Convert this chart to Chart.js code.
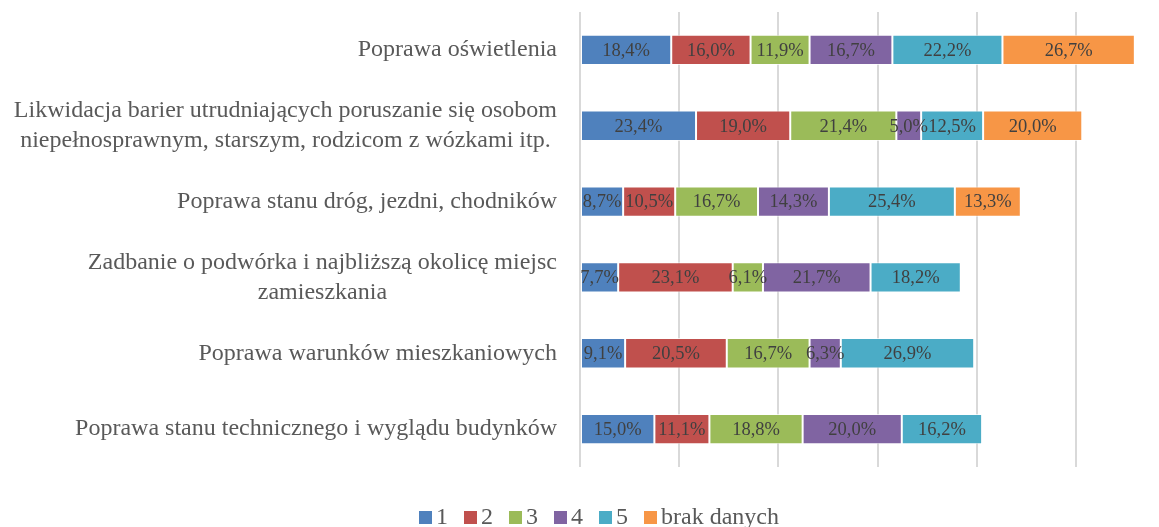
<!DOCTYPE html>
<html>
<head>
<meta charset="utf-8">
<title>Oczekiwane działania</title>
<script src="https://cdn.jsdelivr.net/npm/chart.js@4/dist/chart.umd.min.js"></script>
<style>
    html, body { margin: 0; padding: 0; background: #fff; overflow: hidden; }
    canvas { display: block; }
</style>
</head>
<body>
<canvas id="chart" width="1198" height="527"></canvas>
<script>
// categories, top to bottom (multi-line labels as arrays)
const categories = [
    ['Poprawa oświetlenia'],
    ['Likwidacja barier utrudniających poruszanie się osobom', 'niepełnosprawnym, starszym, rodzicom z wózkami itp.'],
    ['Poprawa stanu dróg, jezdni, chodników'],
    ['Zadbanie o podwórka i najbliższą okolicę miejsc', 'zamieszkania'],
    ['Poprawa warunków mieszkaniowych'],
    ['Poprawa stanu technicznego i wyglądu budynków']
];

const seriesNames = ['1', '2', '3', '4', '5', 'brak danych'];
const seriesColors = ['#4F81BD', '#C0504D', '#9BBB59', '#8064A2', '#4BACC6', '#F79646'];

// shares in %
const rating1 = [18.4, 23.4, 8.7, 7.7, 9.1, 15.0];
const rating2 = [16.0, 19.0, 10.5, 23.1, 20.5, 11.1];
const rating3 = [11.9, 21.4, 16.7, 6.1, 16.7, 18.8];
const rating4 = [16.7, 5.0, 14.3, 21.7, 6.3, 20.0];
const rating5 = [22.2, 12.5, 25.4, 18.2, 26.9, 16.2];
const noData = [26.7, 20.0, 13.3, null, null, null];

const xTicks = [0, 20, 40, 60, 80, 100, 120];

const FONT = '"Liberation Serif", "Times New Roman", serif';

function pct(v) {
    return v.toFixed(1).replace('.', ',') + '%';
}

// category names: right-aligned block, lines centred inside it
const categoryLabels = {
    id: 'categoryLabels',
    afterDraw(chart) {
        const ctx = chart.ctx;
        const y = chart.scales.y;
        ctx.save();
        ctx.font = '24px ' + FONT;
        ctx.fillStyle = '#595959';
        ctx.textAlign = 'center';
        ctx.textBaseline = 'middle';
        categories.forEach(function (lines, i) {
            const yc = y.getPixelForValue(i);
            const w = Math.max.apply(null, lines.map(function (l) { return ctx.measureText(l).width; }));
            const cx = chart.chartArea.left - 23 - w / 2;
            lines.forEach(function (l, j) {
                ctx.fillText(l, cx, yc + (j - (lines.length - 1) / 2) * 30);
            });
        });
        ctx.restore();
    }
};

// value labels in the middle of each segment
const valueLabels = {
    id: 'valueLabels',
    afterDatasetsDraw(chart) {
        const ctx = chart.ctx;
        ctx.save();
        ctx.font = '18.5px ' + FONT;
        ctx.fillStyle = '#404040';
        ctx.textAlign = 'center';
        ctx.textBaseline = 'middle';
        chart.data.datasets.forEach(function (ds, di) {
            const meta = chart.getDatasetMeta(di);
            meta.data.forEach(function (bar, i) {
                const v = ds.data[i];
                if (v == null) return;
                ctx.fillText(pct(v), (bar.x + bar.base) / 2, bar.y + 1);
            });
        });
        ctx.restore();
    }
};

// legend row under the plot
const bottomLegend = {
    id: 'bottomLegend',
    afterDraw(chart) {
        const ctx = chart.ctx;
        const box = 13, gap = 4, spacing = 16, yc = 517, centre = 599;
        ctx.save();
        ctx.font = '24px ' + FONT;
        ctx.textBaseline = 'middle';
        ctx.textAlign = 'left';
        const widths = seriesNames.map(function (n) { return box + gap + ctx.measureText(n).width; });
        const total = widths.reduce(function (a, b) { return a + b; }, 0) + spacing * (widths.length - 1);
        let x = centre - total / 2;
        seriesNames.forEach(function (n, i) {
            ctx.fillStyle = seriesColors[i];
            ctx.fillRect(Math.round(x), yc - 6, box, box);
            ctx.fillStyle = '#595959';
            ctx.fillText(n, x + box + gap, yc + 1);
            x += widths[i] + spacing;
        });
        ctx.restore();
    }
};

const seriesData = [rating1, rating2, rating3, rating4, rating5, noData];

new Chart(document.getElementById('chart'), {
    type: 'bar',
    data: {
        labels: categories,
        datasets: seriesData.map(function (d, i) {
            return {
                label: seriesNames[i],
                data: d,
                backgroundColor: seriesColors[i],
                borderColor: 'rgba(255, 255, 255, 0.7)',
                borderWidth: 1,
                borderSkipped: false,
                barPercentage: 0.4,
                categoryPercentage: 1
            };
        })
    },
    options: {
        indexAxis: 'y',
        responsive: false,
        animation: false,
        layout: {
            padding: { left: 580, right: 23, top: 12, bottom: 60 }
        },
        plugins: {
            legend: { display: false },
            tooltip: { enabled: false }
        },
        scales: {
            x: {
                stacked: true,
                min: xTicks[0],
                max: xTicks[xTicks.length - 1],
                ticks: { display: false, stepSize: xTicks[1] - xTicks[0] },
                grid: { color: '#d9d9d9', lineWidth: 2, drawTicks: false },
                border: { display: false }
            },
            y: {
                stacked: true,
                display: false
            }
        }
    },
    plugins: [categoryLabels, valueLabels, bottomLegend]
});
</script>
</body>
</html>
